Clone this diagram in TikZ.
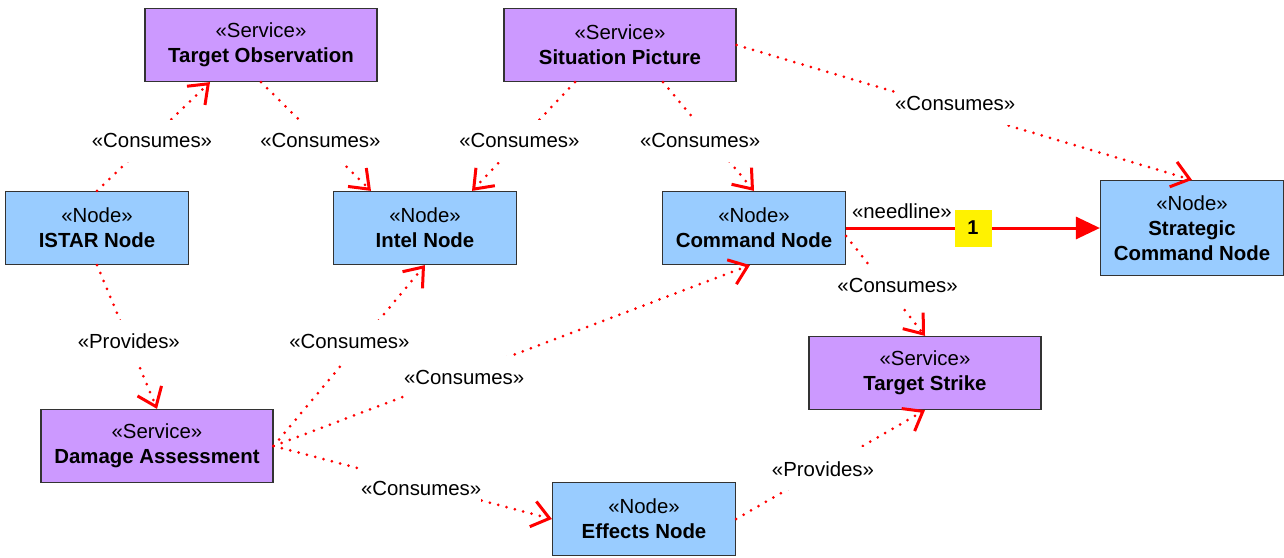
\documentclass[tikz,border=0pt]{standalone}
\usepackage{fontspec}
\setmainfont{Liberation Sans}
\usepackage{tikz}
\usetikzlibrary{calc}
\usetikzlibrary{arrows.meta}

\definecolor{svcpurple}{RGB}{204,153,255}
\definecolor{nodeblue}{RGB}{153,204,255}

\begin{document}
\begin{tikzpicture} [x=.5pt, y=-.5pt, font=\fontsize{10.2}{12.5}\selectfont,
  box/.style={draw=black!80, line width=.6pt, align=center, inner sep=0pt, minimum height=36.5pt},
  svc/.style={box, fill=svcpurple, minimum width=116pt},
  nd/.style={box, fill=nodeblue, minimum width=91.5pt},
  dep/.style={red, line width=1.5pt, dash pattern=on 0pt off 4.3pt, line cap=round, -{Straight Barb[length=8.5pt,width=13pt,line width=1.5pt]}},
  lbl/.style={fill=white, text=black, inner xsep=0pt, inner ysep=7pt},
  need/.style={red, line width=1.5pt, -{Triangle[length=12pt,width=11pt]}}]
\useasboundingbox (0,0) rectangle (1284,557);

\node[svc] (tobs) at (261,45) {«Service»\\\textbf{Target Observation}};
\node[svc] (sitpic) at (620,45) {«Service»\\\textbf{Situation Picture}};
\node[nd] (istar) at (97,228) {«Node»\\\textbf{ISTAR Node}};
\node[nd] (intel) at (425,228) {«Node»\\\textbf{Intel Node}};
\node[nd] (cmd) at (754,228) {«Node»\\\textbf{Command Node}};
\node[nd, minimum height=47.5pt] (stratcmd) at (1192,228) {«Node»\\\textbf{Strategic}\\\textbf{Command Node}};
\node[svc] (strike) at (925,373) {«Service»\\\textbf{Target Strike}};
\node[svc] (damage) at (157,446) {«Service»\\\textbf{Damage Assessment}};
\node[nd] (effects) at (644,519) {«Node»\\\textbf{Effects Node}};

\draw[dep] (istar.north) -- node[lbl, pos=.46, xshift=1.5pt] (l1) {«Consumes»} ($(tobs.south)+(-51,0)$);
\draw[dep] (tobs.south) -- node[lbl, pos=.54] (l2) {«Consumes»} ($(intel.north)+(-54,0)$);
\draw[dep] ($(sitpic.south)+(-45,0)$) -- node[lbl, pos=.54] (l3) {«Consumes»} ($(intel.north)+(47,0)$);
\draw[dep] ($(sitpic.south)+(43,0)$) -- node[lbl, pos=.54, xshift=-6pt] (l4) {«Consumes»} (cmd.north);
\draw[dep] (sitpic.east) -- node[lbl, pos=.48, yshift=3pt] (l5) {«Consumes»} (stratcmd.north);
\draw[dep] ($(cmd.east)+(0,8)$) -- node[lbl, pos=.5, xshift=6pt] (l6) {«Consumes»} (strike.north);
\draw[dep] (istar.south) -- node[lbl, pos=.53] (l7) {«Provides»} (damage.north);
\draw[dep] (damage.east) -- node[lbl, pos=.58, xshift=-6pt] (l8) {«Consumes»} (intel.south);
\draw[dep] (damage.east) -- node[lbl, pos=.4, yshift=-2pt] (l9) {«Consumes»} ($(cmd.south)+(-4,0)$);
\draw[dep] (damage.east) -- node[lbl, pos=.53, yshift=-2pt] (l10) {«Consumes»} (effects.west);
\draw[dep] (effects.east) -- node[lbl, pos=.46] (l11) {«Provides»} (strike.south);

\draw[need] (cmd.east) -- node[pos=.22, above, inner sep=4pt, text=black] (needlbl) {«needline»} node[fill=yellow, text=black, minimum size=18.5pt, inner sep=0pt, font=\bfseries] (mult) {1} (stratcmd.west);

\end{tikzpicture}
\end{document}
